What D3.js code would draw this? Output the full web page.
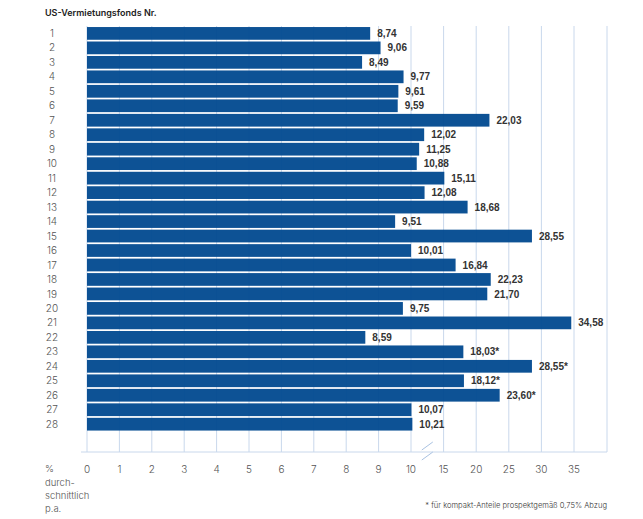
<!DOCTYPE html>
<html><head><meta charset="utf-8">
<script src="https://cdn.jsdelivr.net/npm/d3@7"></script>
<style>body{margin:0;background:#fff}svg{display:block}</style>
</head><body>
<svg id="c" width="643" height="519"></svg>
<script>
const categories = ["1","2","3","4","5","6","7","8","9","10","11","12","13","14","15","16","17","18","19","20","21","22","23","24","25","26","27","28"];
const values = [8.74,9.06,8.49,9.77,9.61,9.59,22.03,12.02,11.25,10.88,15.11,12.08,18.68,9.51,28.55,10.01,16.84,22.23,21.70,9.75,34.58,8.59,18.03,28.55,18.12,23.60,10.07,10.21];
const starred = [false,false,false,false,false,false,false,false,false,false,false,false,false,false,false,false,false,false,false,false,false,false,true,true,true,true,false,false];
const tickValues = [0,1,2,3,4,5,6,7,8,9,10,15,20,25,30,35];
const title = "US-Vermietungsfonds Nr.";
const unitLines = ["%","durch-","schnittlich","p.a."];
const footnote = "* für kompakt-Anteile prospektgemäß 0,75% Abzug";

const svg = d3.select("#c");
const x = d3.scaleLinear().domain([0,10,35]).range([87,411,574]);
const y = d3.scaleBand().domain(categories).range([25.3,432.3]).padding(0.12);
const gridTop = 26, gridBottom = 452, rightEdge = 607;
const gridColor = "#c9d8ec";
const fmt = v => v.toFixed(2).replace(".", ",");

// grid
const g = svg.append("g");
g.selectAll("line.v").data(tickValues).join("line")
  .attr("x1", d=>x(d)).attr("x2", d=>x(d))
  .attr("y1", gridTop).attr("y2", gridBottom)
  .attr("stroke", gridColor).attr("stroke-width", 1);
g.append("line").attr("x1", rightEdge).attr("x2", rightEdge).attr("y1", gridTop).attr("y2", gridBottom)
  .attr("stroke", gridColor);
g.append("line").attr("x1", 81).attr("x2", rightEdge).attr("y1", gridBottom).attr("y2", gridBottom)
  .attr("stroke", gridColor);

// break marks
const bx = (x(10)+x(15))/2;
[-6, 4].forEach(dy=>{
  svg.append("line").attr("x1", bx-5.5).attr("y1", gridBottom+dy+4).attr("x2", bx+5.5).attr("y2", gridBottom+dy-4)
    .attr("stroke", "#a9c2e2").attr("stroke-width", 1);
});

// bars
svg.append("g").selectAll("rect").data(values).join("rect")
  .attr("x", x(0)).attr("y", (d,i)=>y(categories[i]))
  .attr("width", d=>x(d)-x(0)).attr("height", y.bandwidth())
  .attr("fill", "#00498f").attr("fill-opacity", 0.95);

// value labels
svg.append("g").selectAll("text").data(values).join("text")
  .attr("x", d=>x(d)+7).attr("y", (d,i)=>y(categories[i])+y.bandwidth()/2)
  .attr("dy", "0.36em")
  .attr("font-family", "Liberation Sans, Arial, sans-serif").attr("font-weight", "bold")
  .attr("font-size", 10).attr("fill", "#333")
  .text((d,i)=>fmt(d)+(starred[i]?"*":""));

// category labels
svg.append("g").selectAll("text").data(categories).join("text")
  .attr("x", 52).attr("y", d=>y(d)+y.bandwidth()/2).attr("dy","0.36em")
  .attr("text-anchor","middle")
  .attr("font-family","Inter, sans-serif").attr("font-weight",300)
  .attr("font-size",10).attr("fill","#555").text(d=>d);

// tick labels
svg.append("g").selectAll("text").data(tickValues).join("text")
  .attr("x", d=>x(d)).attr("y", 469).attr("dy","0.36em")
  .attr("text-anchor","middle")
  .attr("font-family","Inter, sans-serif").attr("font-weight",300)
  .attr("font-size",10).attr("fill","#555").text(d=>d);

// title
svg.append("text").attr("x", 45).attr("y", 13).attr("dy","0.36em")
  .attr("font-family","Inter, sans-serif").attr("font-weight",600)
  .attr("font-size",9).attr("fill","#222").text(title);

// unit
svg.append("g").selectAll("text").data(unitLines).join("text")
  .attr("x", 45).attr("y", (d,i)=>469+i*13.2).attr("dy","0.36em")
  .attr("font-family","Inter, sans-serif").attr("font-weight",300)
  .attr("font-size",9.5).attr("fill","#555").text(d=>d);

// footnote
svg.append("text").attr("x", 607).attr("y", 505.7).attr("dy","0.36em")
  .attr("text-anchor","end")
  .attr("font-family","Inter, sans-serif").attr("font-weight",300)
  .attr("font-size",7.6).attr("fill","#333").text(footnote);
</script>
</body></html>
